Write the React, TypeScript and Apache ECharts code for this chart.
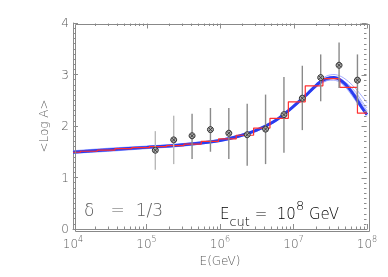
import React, { useEffect, useRef } from "react";
import * as echarts from "echarts";

// x values are log10(E / GeV)
const curveX = [4, 4.5, 5, 5.5, 6, 6.25, 6.5, 6.75, 7, 7.2, 7.35, 7.45, 7.55, 7.65, 7.75, 7.85, 7.93, 8];
const mainCurve = [1.49, 1.54, 1.585, 1.635, 1.72, 1.8, 1.92, 2.1, 2.38, 2.64, 2.84, 2.92, 2.94, 2.88, 2.74, 2.54, 2.36, 2.22];
const thinCurves = [
  [1.52, 1.57, 1.61, 1.66, 1.74, 1.82, 1.93, 2.11, 2.39, 2.66, 2.87, 2.97, 3.0, 2.96, 2.86, 2.72, 2.58, 2.45],
  [1.47, 1.51, 1.56, 1.61, 1.7, 1.78, 1.9, 2.08, 2.36, 2.62, 2.8, 2.88, 2.93, 2.9, 2.8, 2.65, 2.48, 2.35],
  [1.5, 1.55, 1.6, 1.65, 1.73, 1.81, 1.92, 2.09, 2.37, 2.64, 2.84, 2.93, 2.95, 2.91, 2.78, 2.6, 2.44, 2.3],
  [1.48, 1.53, 1.57, 1.62, 1.71, 1.79, 1.91, 2.1, 2.39, 2.64, 2.81, 2.88, 2.89, 2.83, 2.68, 2.48, 2.32, 2.2],
  [1.51, 1.56, 1.6, 1.64, 1.72, 1.8, 1.93, 2.12, 2.4, 2.66, 2.85, 2.92, 2.94, 2.88, 2.76, 2.58, 2.4, 2.28],
];

const histEdges = [4.0, 4.1, 4.33, 4.57, 4.8, 5.04, 5.27, 5.51, 5.745, 5.98, 6.22, 6.457, 6.68, 6.93, 7.16, 7.4, 7.63, 7.87, 8.0];
const histValues = [1.49, 1.51, 1.53, 1.56, 1.58, 1.6, 1.62, 1.65, 1.7, 1.75, 1.82, 1.96, 2.15, 2.47, 2.78, 2.92, 2.75, 2.25];

const pointX = [5.12, 5.37, 5.62, 5.87, 6.12, 6.37, 6.62, 6.87, 7.12, 7.37, 7.62, 7.87];
const pointY = [1.53, 1.73, 1.81, 1.93, 1.86, 1.83, 1.94, 2.22, 2.54, 2.94, 3.18, 2.89];
const errHigh = [1.9, 2.2, 2.24, 2.35, 2.35, 2.43, 2.61, 2.95, 3.17, 3.39, 3.62, 3.39];
const errLow = [1.15, 1.26, 1.36, 1.5, 1.36, 1.23, 1.26, 1.48, 1.92, 2.48, 2.74, 2.41];

const X_MIN = 4;
const X_MAX = 8;
const Y_MIN = 0;
const Y_MAX = 4;
const decades = [4, 5, 6, 7, 8];
const minorMultipliers = [2, 3, 4, 5, 6, 7, 8, 9];
const yMajorTicks = [0, 1, 2, 3, 4];
const yMinorStep = 0.1;

const FONT = "DejaVu Sans";
const TEXT = "#5a5a5a";
const FRAME = "#8c8c8c";

export default function App() {
  const ref = useRef<HTMLDivElement>(null);
  useEffect(() => {
    if (!ref.current) return;
    const chart = echarts.init(ref.current, undefined, { renderer: "svg" });

    const minorTicks: number[] = [];
    decades.slice(0, -1).forEach((d) => minorMultipliers.forEach((m) => minorTicks.push(d + Math.log10(m))));
    const yMinor: number[] = [];
    for (let v = Y_MIN; v <= Y_MAX + 1e-9; v += yMinorStep) yMinor.push(v);

    const histData = histEdges.map((e, i) => [e, histValues[Math.min(i, histValues.length - 1)]]);

    const series: any[] = [];
    thinCurves.forEach((c) => {
      series.push({
        type: "line",
        data: curveX.map((x, i) => [x, c[i]]),
        smooth: 0.3,
        symbol: "none",
        lineStyle: { color: "#7f8cff", width: 0.8, opacity: 0.9 },
        z: 2,
      });
    });
    series.push({
      type: "line",
      data: curveX.map((x, i) => [x, mainCurve[i]]),
      smooth: 0.3,
      symbol: "none",
      lineStyle: { color: "#2a3cf0", width: 3 },
      z: 3,
    });
    series.push({
      type: "line",
      data: histData,
      step: "end",
      symbol: "none",
      lineStyle: { color: "#ff3030", width: 1.2 },
      z: 4,
    });
    series.push({
      type: "custom",
      data: pointX.map((x, i) => [x, pointY[i], errLow[i], errHigh[i]]),
      z: 5,
      renderItem: (params: any, api: any) => {
        const x = api.value(0);
        const p = api.coord([x, api.value(1)]);
        const lo = api.coord([x, api.value(2)]);
        const hi = api.coord([x, api.value(3)]);
        const idx = params.dataIndex;
        const barColor = idx < 2 ? "#b8b8b8" : "#8a8a8a";
        const r = 3;
        const d = r * 0.7;
        return {
          type: "group",
          children: [
            { type: "line", shape: { x1: lo[0], y1: lo[1], x2: hi[0], y2: hi[1] }, style: { stroke: barColor, lineWidth: 1.4 } },
            { type: "circle", shape: { cx: p[0], cy: p[1], r }, style: { fill: "#aaa", stroke: "#333", lineWidth: 1 } },
            { type: "line", shape: { x1: p[0] - d, y1: p[1] - d, x2: p[0] + d, y2: p[1] + d }, style: { stroke: "#333", lineWidth: 0.9 } },
            { type: "line", shape: { x1: p[0] - d, y1: p[1] + d, x2: p[0] + d, y2: p[1] - d }, style: { stroke: "#333", lineWidth: 0.9 } },
          ],
        };
      },
    });
    // mirrored ticks on top/right and log minor ticks on x
    series.push({
      type: "custom",
      data: [[X_MIN, Y_MIN]],
      z: 6,
      silent: true,
      clip: false,
      renderItem: (_params: any, api: any) => {
        const tl = api.coord([X_MIN, Y_MAX]);
        const br = api.coord([X_MAX, Y_MIN]);
        const top = Math.round(tl[1]) + 0.5;
        const right = Math.round(br[0]) - 0.5;
        const st = { stroke: FRAME, lineWidth: 1 };
        const children: any[] = [];
        minorTicks.forEach((t) => {
          const x = Math.round(api.coord([t, Y_MIN])[0]) + 0.5;
          children.push({ type: "line", shape: { x1: x, y1: br[1], x2: x, y2: br[1] - 2.5 }, style: st });
          children.push({ type: "line", shape: { x1: x, y1: top, x2: x, y2: top + 2.5 }, style: st });
        });
        decades.forEach((t) => {
          const x = Math.round(api.coord([t, Y_MIN])[0]) + 0.5;
          children.push({ type: "line", shape: { x1: x, y1: top, x2: x, y2: top + 5 }, style: st });
        });
        yMinor.forEach((v) => {
          const y = Math.round(api.coord([X_MIN, v])[1]) + 0.5;
          children.push({ type: "line", shape: { x1: right, y1: y, x2: right - 2.5, y2: y }, style: st });
        });
        yMajorTicks.forEach((v) => {
          const y = Math.round(api.coord([X_MIN, v])[1]) + 0.5;
          children.push({ type: "line", shape: { x1: right, y1: y, x2: right - 5, y2: y }, style: st });
        });
        return { type: "group", children };
      },
    });

    chart.setOption({
      animation: false,
      grid: { left: 73, right: 21, top: 23, bottom: 48, containLabel: false },
      xAxis: {
        type: "value",
        min: X_MIN,
        max: X_MAX,
        interval: 1,
        axisLine: { show: true, onZero: false, lineStyle: { color: FRAME, width: 1 } },
        axisTick: { show: true, inside: true, length: 5, lineStyle: { color: FRAME } },
        splitLine: { show: false },
        name: "E(GeV)",
        nameLocation: "middle",
        nameGap: 19,
        nameTextStyle: { fontFamily: FONT, fontSize: 12, color: TEXT, fontWeight: 300 },
        axisLabel: {
          margin: 6,
          fontFamily: FONT,
          color: TEXT,
          formatter: (v: number) => `{b|10}{s|${Math.round(v)}}`,
          rich: {
            b: { fontFamily: FONT, fontSize: 12, color: TEXT, fontWeight: 300, verticalAlign: "bottom" },
            s: { fontFamily: FONT, fontSize: 8, color: TEXT, fontWeight: 300, verticalAlign: "top", padding: [0, 0, 7, 0] },
          },
        },
      },
      yAxis: {
        type: "value",
        min: Y_MIN,
        max: Y_MAX,
        interval: 1,
        axisLine: { show: true, onZero: false, lineStyle: { color: FRAME, width: 1 } },
        axisTick: { show: true, inside: true, length: 5, lineStyle: { color: FRAME } },
        minorTick: { show: true, splitNumber: 10, length: 2.5, lineStyle: { color: FRAME } },
        splitLine: { show: false },
        name: "<Log A>",
        nameLocation: "middle",
        nameRotate: 90,
        nameGap: 14,
        nameTextStyle: { fontFamily: FONT, fontSize: 12, color: TEXT, fontWeight: 300 },
        axisLabel: { margin: 4, fontFamily: FONT, fontSize: 12, color: TEXT, fontWeight: 300 },
      },
      graphic: [
        {
          type: "rect",
          left: 73,
          top: 22,
          z: 100,
          silent: true,
          shape: { width: 294, height: 207 },
          style: { fill: "none", stroke: "#888888", lineWidth: 1 },
        },
        {
          type: "text",
          left: 84,
          top: 201,
          style: { text: "δ   =  1/3", fontFamily: FONT, fontSize: 17, fontWeight: 300, fill: TEXT },
        },
        {
          type: "text",
          left: 220,
          top: 199,
          style: {
            text: "{e|E}{sub|cut}{e| =  10}{sup|8}{e| GeV}",
            rich: {
              e: { fontFamily: FONT, fontSize: 15, fontWeight: 300, color: TEXT, verticalAlign: "bottom" },
              sub: { fontFamily: FONT, fontSize: 13, fontWeight: 300, color: TEXT, verticalAlign: "bottom", padding: [0, 0, -7, 0] },
              sup: { fontFamily: FONT, fontSize: 13, fontWeight: 300, color: TEXT, verticalAlign: "top", padding: [0, 0, 9, 0] },
            },
          },
        },
      ],
      series,
    });
    return () => chart.dispose();
  }, []);
  return <div ref={ref} style={{ width: 388, height: 277, position: "fixed", left: 0, top: 0 }} />;
}
